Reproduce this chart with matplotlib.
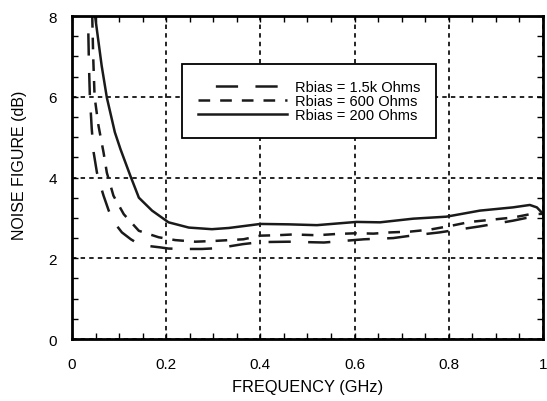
import matplotlib
matplotlib.use("Agg")
import matplotlib.pyplot as plt
from matplotlib.ticker import MultipleLocator, FuncFormatter

plt.rcParams['font.family'] = ['Liberation Sans', 'DejaVu Sans']
plt.rcParams['lines.scale_dashes'] = False

# Rbias = 1.5k Ohms (long dash)
f_1k5 = [0.034, 0.036, 0.038, 0.042, 0.046, 0.053, 0.060, 0.067, 0.078, 0.090, 0.106, 0.125,
         0.142, 0.165, 0.187, 0.205, 0.240, 0.276, 0.310, 0.363, 0.400, 0.460, 0.535, 0.620,
         0.682, 0.720, 0.780, 0.866, 0.936, 0.965, 1.000]
nf_1k5 = [8.0, 6.8, 6.0, 5.2, 4.62, 4.12, 3.82, 3.55, 3.18, 2.88, 2.64, 2.47,
          2.35, 2.30, 2.27, 2.24, 2.23, 2.23, 2.25, 2.35, 2.40, 2.41, 2.39, 2.47,
          2.50, 2.56, 2.64, 2.79, 2.93, 3.00, 3.05]

# Rbias = 600 Ohms (short dash)
f_600 = [0.043, 0.045, 0.048, 0.056, 0.067, 0.074, 0.088, 0.110, 0.142, 0.184, 0.219, 0.262,
         0.304, 0.364, 0.400, 0.435, 0.470, 0.520, 0.560, 0.604, 0.640, 0.675, 0.718, 0.760,
         0.803, 0.845, 0.887, 0.937, 0.972, 1.000]
nf_600 = [8.0, 7.0, 6.0, 5.3, 4.62, 4.12, 3.55, 3.09, 2.68, 2.52, 2.45, 2.41,
          2.43, 2.47, 2.56, 2.57, 2.59, 2.57, 2.60, 2.62, 2.61, 2.64, 2.66, 2.71,
          2.80, 2.90, 2.95, 3.01, 3.09, 3.10]

# Rbias = 200 Ohms (solid)
f_200 = [0.049, 0.063, 0.074, 0.091, 0.103, 0.124, 0.142, 0.170, 0.205, 0.248, 0.297, 0.333,
         0.400, 0.460, 0.520, 0.604, 0.654, 0.724, 0.795, 0.866, 0.936, 0.972, 0.987, 1.000]
nf_200 = [8.0, 6.77, 5.98, 5.12, 4.7, 4.04, 3.5, 3.18, 2.89, 2.76, 2.72, 2.75,
          2.85, 2.84, 2.82, 2.90, 2.89, 2.98, 3.03, 3.18, 3.26, 3.32, 3.26, 3.10]

fig = plt.figure(figsize=(5.47, 4.02), dpi=100)
ax = fig.add_axes([0.1316, 0.1542, 0.8611, 0.8035])

ink = '#1a1a1a'
ax.plot(f_1k5, nf_1k5, color=ink, lw=1.8, linestyle=(16, (16, 12.5)), label='Rbias = 1.5k Ohms')
ax.plot(f_600, nf_600, color=ink, lw=1.8, linestyle=(0, (8.4, 7.2)), label='Rbias = 600 Ohms')
ax.plot(f_200, nf_200, color=ink, lw=1.8, label='Rbias = 200 Ohms')

ax.set_xlim(0, 1)
ax.set_ylim(0, 8)
ax.xaxis.set_major_locator(MultipleLocator(0.2))
ax.xaxis.set_minor_locator(MultipleLocator(0.05))
ax.yaxis.set_major_locator(MultipleLocator(2))
ax.yaxis.set_minor_locator(MultipleLocator(0.5))
ax.xaxis.set_major_formatter(FuncFormatter(lambda v, _: f'{v:g}'))

ax.grid(True, which='major', color='black', lw=1.2, linestyle=(0, (3.2, 3)))
ax.tick_params(which='both', direction='in', top=True, right=True, width=1.0,
               labelsize=11, length=4)
ax.tick_params(axis='x', pad=13)
ax.tick_params(axis='y', pad=11)
for s in ax.spines.values():
    s.set_linewidth(2.0)

ax.set_xlabel('FREQUENCY (GHz)', fontsize=11.8)
ax.set_ylabel('NOISE FIGURE (dB)', fontsize=11.5)
ax.xaxis.set_label_coords(0.5, -0.125)
ax.yaxis.set_label_coords(-0.0955, 0.542)

leg = ax.legend(loc='upper left', bbox_to_anchor=(0.2335, 0.851), fontsize=10.5,
                handlelength=6.1, handletextpad=0.55, labelspacing=0.0,
                borderpad=1.1, borderaxespad=0, fancybox=False, framealpha=1)
leg.get_frame().set_edgecolor('black')
leg.get_frame().set_linewidth(1.3)

fig.savefig('out.png', dpi=100)
